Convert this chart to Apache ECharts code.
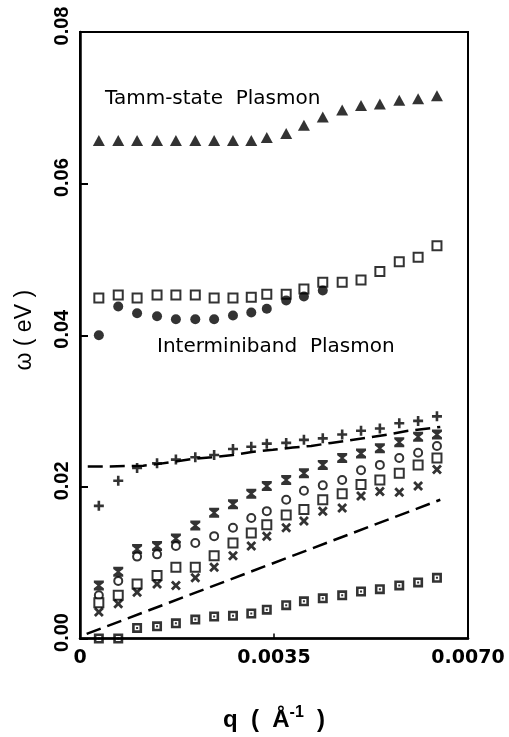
<!DOCTYPE html>
<html>
<head>
<meta charset="utf-8">
<script src="https://cdn.jsdelivr.net/npm/echarts@6/dist/echarts.min.js"></script>
<style>
  html, body { margin: 0; padding: 0; background: #fff; }
  #main { width: 509px; height: 737px; }
</style>
</head>
<body>
<div id="main"></div>
<script>
// q positions of the data columns (1/Angstrom)
var q = [0.00034, 0.00069, 0.00103, 0.00139, 0.00173, 0.00208, 0.00242, 0.00276, 0.00309, 0.00337,
         0.00372, 0.00404, 0.00438, 0.00473, 0.00507, 0.00541, 0.00576, 0.00610, 0.00644];

// Tamm-state plasmon (filled triangles)
var tamm = [0.0657, 0.0657, 0.0657, 0.0657, 0.0657, 0.0657, 0.0657, 0.0657, 0.0657, 0.0661,
            0.0666, 0.0677, 0.0688, 0.0697, 0.0703, 0.0705, 0.0710, 0.0712, 0.0716];
// interminiband plasmon (open squares, upper)
var interSq = [0.0449, 0.0453, 0.0449, 0.0453, 0.0453, 0.0453, 0.0449, 0.0449, 0.0450, 0.0454,
               0.0454, 0.0461, 0.0470, 0.0470, 0.0473, 0.0484, 0.0497, 0.0503, 0.0518];
// interminiband plasmon (filled circles)
var interDot = [0.0400, 0.0438, 0.0429, 0.0425, 0.0421, 0.0421, 0.0421, 0.0426, 0.0430, 0.0435,
                0.0446, 0.0451, 0.0459];
// lower branches
var plus = [0.0175, 0.0208, 0.0225, 0.0231, 0.0236, 0.0239, 0.0242, 0.0250, 0.0253, 0.0257,
            0.0258, 0.0262, 0.0264, 0.0269, 0.0274, 0.0277, 0.0284, 0.0287, 0.0293];
var bowtie = [0.0070, 0.0088, 0.0118, 0.0122, 0.0132, 0.0149, 0.0166, 0.0177, 0.0191, 0.0201,
              0.0209, 0.0218, 0.0229, 0.0238, 0.0244, 0.0251, 0.0259, 0.0266, 0.0269];
var ring = [0.0057, 0.0076, 0.0108, 0.0111, 0.0122, 0.0126, 0.0135, 0.0146, 0.0159, 0.0168,
            0.0183, 0.0195, 0.0202, 0.0209, 0.0222, 0.0229, 0.0238, 0.0245, 0.0254];
var box = [0.0047, 0.0057, 0.0072, 0.0083, 0.0094, 0.0094, 0.0109, 0.0126, 0.0139, 0.0150,
           0.0163, 0.0170, 0.0183, 0.0191, 0.0203, 0.0209, 0.0218, 0.0229, 0.0238];
var cross = [0.0035, 0.0046, 0.0061, 0.0072, 0.0070, 0.0080, 0.0094, 0.0109, 0.0122, 0.0135,
             0.0146, 0.0155, 0.0168, 0.0172, 0.0188, 0.0194, 0.0193, 0.0201, 0.0223];
var dotBox = [0.0000, 0.0000, 0.0014, 0.0016, 0.0020, 0.0025, 0.0029, 0.0030, 0.0033, 0.0038,
              0.0044, 0.0049, 0.0053, 0.0057, 0.0062, 0.0065, 0.0070, 0.0074, 0.0080];

// dashed curves
var dashHiQ = [0.00014, 0.00054, 0.00114, 0.00139, 0.00168, 0.00204, 0.00238, 0.00276, 0.00310,
               0.00348, 0.00384, 0.00417, 0.00453, 0.00484, 0.00520, 0.00556, 0.00592, 0.00650];
var dashHiW = [0.0227, 0.0227, 0.0228, 0.0230, 0.0233, 0.0237, 0.0239, 0.0242, 0.0246,
               0.0249, 0.0252, 0.0254, 0.0258, 0.0261, 0.0265, 0.0269, 0.0274, 0.0279];
var dashLoQ = [0.00012, 0.00650];
var dashLoW = [0.0006, 0.0183];

var xTicks = ['0', '0.0035', '0.0070'];

function pairs(xs, ys) {
  return ys.map(function (y, i) { return [xs[i], y]; });
}

var plusPath = 'path://M3.7,0H6.3V3.7H10V6.3H6.3V10H3.7V6.3H0V3.7H3.7Z';
var bowPath = 'path://M0,0H10V2.2L6.4,5L10,7.8V10H0V7.8L3.6,5L0,2.2Z';
var crossPath = 'path://M0,2L2,0L5,3L8,0L10,2L7,5L10,8L8,10L5,7L2,10L0,8L3,5Z';
var dotBoxPath = 'path://M0,0H10V10H0ZM2.6,2.6V7.4H7.4V2.6ZM4,4H6V6H4Z';

var black = '#000';

function scatter(data, symbol, size, style) {
  return {
    type: 'scatter',
    data: data,
    symbol: symbol,
    symbolSize: size,
    itemStyle: style || { color: black },
    z: 3
  };
}

var chart = echarts.init(document.getElementById('main'));
chart.setOption({
  animation: false,
  backgroundColor: '#fff',
  grid: {
    left: 80, right: 41, top: 32, bottom: 94,
    show: true, borderColor: black, borderWidth: 2
  },
  xAxis: {
    type: 'value',
    min: 0, max: 0.007, interval: 0.0035,
    name: '{n|q  (  Å}{sup|-1}{n|  )}',
    nameLocation: 'middle',
    nameGap: 66,
    nameTextStyle: {
      color: black,
      rich: {
        n: { fontSize: 24, fontWeight: 'bold', fontFamily: 'Liberation Sans', color: black },
        sup: { fontSize: 16, fontWeight: 'bold', fontFamily: 'Liberation Sans', color: black, padding: [0, 0, 15, 0] }
      }
    },
    axisLine: { lineStyle: { color: black, width: 2.5 } },
    axisTick: { inside: true, length: 5, lineStyle: { color: black, width: 1.5 } },
    splitLine: { show: false },
    axisLabel: {
      color: black, fontSize: 19, fontWeight: 'bold', fontFamily: 'DejaVu Sans', margin: 10,
      formatter: function (v) {
        var i = Math.round(v / 0.0035);
        return xTicks[i];
      }
    }
  },
  yAxis: {
    type: 'value',
    min: 0, max: 0.08, interval: 0.02,
    name: 'ω ( eV )',
    nameLocation: 'middle',
    nameGap: 44,
    nameTextStyle: { color: black, fontSize: 23, fontFamily: 'Liberation Sans', padding: [0, 0, 0, 10] },
    axisLine: { lineStyle: { color: black, width: 2.5 } },
    axisTick: { inside: true, length: 8, lineStyle: { color: black, width: 2 } },
    splitLine: { show: false },
    axisLabel: {
      color: black, fontSize: 20, fontWeight: 'bold', fontFamily: 'Liberation Sans',
      rotate: 90, margin: 8, padding: [0, 0, 0, 12],
      formatter: function (v) { return v.toFixed(2); }
    }
  },
  graphic: [
    {
      type: 'text', x: 105, y: 99,
      style: { text: 'Tamm-state  Plasmon', fill: black, font: '20px "DejaVu Sans"', verticalAlign: 'middle' }
    },
    {
      type: 'text', x: 157, y: 347,
      style: { text: 'Interminiband  Plasmon', fill: black, font: '20px "DejaVu Sans"', verticalAlign: 'middle' }
    }
  ],
  series: [
    {
      type: 'line', data: pairs(dashHiQ, dashHiW), symbol: 'none', z: 2,
      lineStyle: { color: black, width: 2.5, type: [15, 7] }
    },
    {
      type: 'line', data: pairs(dashLoQ, dashLoW), symbol: 'none', z: 2,
      lineStyle: { color: black, width: 2.5, type: [15, 7] }
    },
    scatter(pairs(q, tamm), 'triangle', [12, 11]),
    scatter(pairs(q, interSq), 'rect', 9, { color: '#fff', borderColor: black, borderWidth: 2 }),
    scatter(pairs(q, interDot), 'circle', 10),
    scatter(pairs(q, plus), plusPath, 10),
    scatter(pairs(q, bowtie), bowPath, 10),
    scatter(pairs(q, ring), 'circle', 8, { color: '#fff', borderColor: black, borderWidth: 2 }),
    scatter(pairs(q, box), 'rect', 9, { color: '#fff', borderColor: black, borderWidth: 2 }),
    scatter(pairs(q, cross), crossPath, 10),
    scatter(pairs(q, dotBox), dotBoxPath, 10)
  ]
});
</script>
</body>
</html>
